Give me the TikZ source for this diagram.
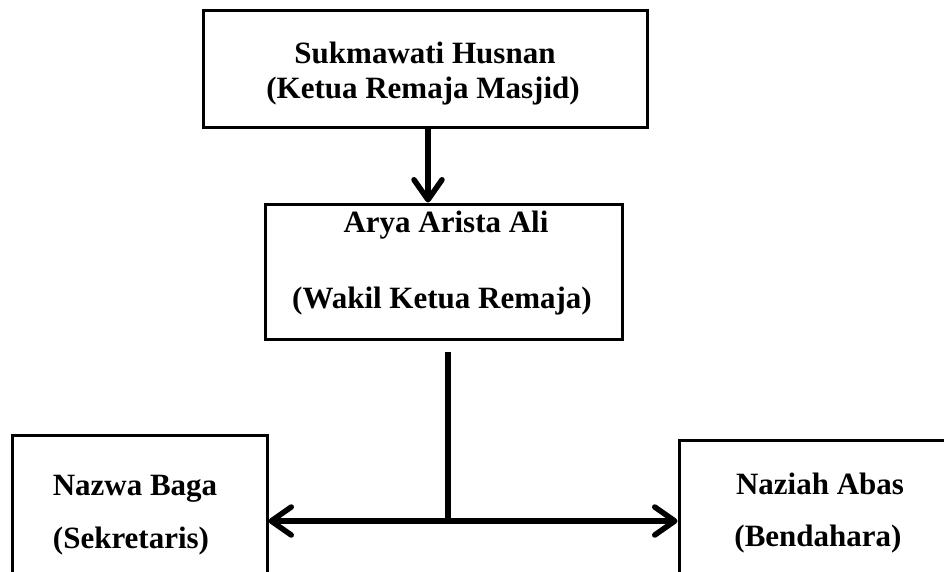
\documentclass[tikz,border=0pt]{standalone}
\usepackage{fontspec}
\setmainfont{Liberation Serif}
\usetikzlibrary{arrows.meta}
\begin{document}
\begin{tikzpicture}[x=1pt,y=-1pt,
  box/.style={draw, line width=3pt, inner sep=0pt},
  lbl/.style={anchor=base, inner sep=0pt, font=\fontsize{31}{37}\selectfont\bfseries},
  conn/.style={line width=5.5pt},
  barb/.tip={Straight Barb[length=20pt,width=28pt,round]}]
\useasboundingbox (0,0) rectangle (944,571);
\clip (0,0) rectangle (944,571);
% boxes
\node[box, minimum width=444pt, minimum height=117pt] (ketua) at (425,68.5) {};
\node[box, minimum width=357pt, minimum height=135pt] (wakil) at (443.5,271.5) {};
\node[box, minimum width=255pt, minimum height=185pt] (sek) at (139.5,527.5) {};
\node[box, minimum width=321pt, minimum height=180pt] (ben) at (839.5,530) {};
% labels
\node[lbl] (t1a) at (425,63) {Sukmawati Husnan};
\node[lbl] (t1b) at (423,98) {(Ketua Remaja Masjid)};
\node[lbl] (t2a) at (446,232) {Arya Arista Ali};
\node[lbl] (t2b) at (442,308) {(Wakil Ketua Remaja)};
\node[lbl] (t3a) at (135,495) {Nazwa Baga};
\node[lbl] (t3b) at (131,548) {(Sekretaris)};
\node[lbl] (t4a) at (820,494) {Naziah Abas};
\node[lbl] (t4b) at (818,546) {(Bendahara)};
% connectors
\coordinate (ax) at (428,0);
\draw[conn,-barb] (ketua.south -| ax) -- (wakil.north -| ax);
\coordinate (vtop) at (448,352);
\coordinate (junc) at (448,521);
\draw[conn] (vtop) -- (junc);
\draw[conn,barb-barb] (sek.east |- junc) -- (ben.west |- junc);
\end{tikzpicture}
\end{document}
